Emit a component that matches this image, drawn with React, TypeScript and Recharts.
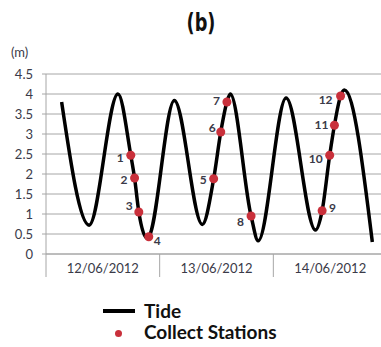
import { ComposedChart, Line, Scatter, XAxis, YAxis, CartesianGrid, Legend } from 'recharts';

// tide curve (hours since 12/06 00:00, metres)
const tideHours = [3.3, 9.1, 15.2, 17.9, 18.7, 19.6, 21.3, 21.7, 27.1, 33.0, 35.4, 36.9, 38.2, 38.9, 43.3, 44.8, 50.7, 56.9, 58.3, 59.9, 60.9, 62.2, 63.0, 68.9];
const tideLevels = [3.8, 0.72, 4.0, 2.47, 1.9, 1.05, 0.4, 0.43, 3.84, 0.74, 1.88, 3.05, 3.8, 4.0, 0.95, 0.33, 3.9, 0.6, 1.08, 2.47, 3.22, 3.95, 4.1, 0.3];

// collect stations 1..12
const stationHours = [17.9, 18.7, 19.6, 21.7, 35.4, 36.9, 38.2, 43.3, 58.3, 59.9, 60.9, 62.2];
const stationLevels = [2.47, 1.9, 1.05, 0.43, 1.88, 3.05, 3.8, 0.95, 1.08, 2.47, 3.22, 3.95];

const dayLabels = ['12/06/2012', '13/06/2012', '14/06/2012'];
const yTicks = [0, 0.5, 1, 1.5, 2, 2.5, 3, 3.5, 4, 4.5];
const xTicks = [0, 12, 24, 36, 48, 60, 72];

// where each station number sits relative to its dot
const LABEL_DX = [-7, -7, -6, 5, -7, -5, -7, -7, 7, -7, -6, -8];
const LABEL_DY = [7, 6, -2, 8, 5, 0, 3, 10, 1, 8, 4, 8];

const tide = tideHours.map((h, i) => ({ h, v: tideLevels[i] }));
const stations = stationHours.map((h, i) => ({ h, v: stationLevels[i], n: i + 1 }));

const FONT = 'Lato, sans-serif';
const GRID = '#a6a6a6';
const RED = '#c9303b';
const TEXT = '#3a3a48';

function DayTick(props: any) {
  const { x, y, payload } = props;
  const v = payload.value;
  if (v % 24 === 0) {
    return <line x1={x} x2={x} y1={y} y2={y + 23} stroke={GRID} strokeWidth={1} />;
  }
  return (
    <text x={x} y={y + 19} textAnchor="middle" fontSize={13} fontFamily={FONT} fill={TEXT}>
      {dayLabels[Math.floor(v / 24)]}
    </text>
  );
}

function StationDot(props: any) {
  const { cx, cy, payload } = props;
  const i = payload.n - 1;
  const dx = LABEL_DX[i];
  return (
    <g>
      <circle cx={cx} cy={cy} r={4.5} fill={RED} />
      <text
        x={cx + dx}
        y={cy + LABEL_DY[i]}
        textAnchor={dx > 0 ? 'start' : 'end'}
        fontSize={12}
        fontWeight="bold"
        fontFamily={FONT}
        fill={TEXT}
      >
        {payload.n}
      </text>
    </g>
  );
}

function LegendBox() {
  const row = { display: 'flex', alignItems: 'center', height: 21 } as const;
  const label = { fontFamily: FONT, fontWeight: 700, fontSize: 19, color: '#111', marginLeft: 9, lineHeight: '21px' } as const;
  return (
    <div>
      <div style={row}>
        <div style={{ width: 32, height: 4, background: '#000' }} />
        <span style={label}>Tide</span>
      </div>
      <div style={row}>
        <div style={{ width: 32, display: 'flex', justifyContent: 'center', marginLeft: -1, paddingTop: 4 }}>
          <div style={{ width: 7, height: 7, borderRadius: 4, background: RED }} />
        </div>
        <span style={{ ...label, marginLeft: 10 }}>Collect Stations</span>
      </div>
    </div>
  );
}

export default function App() {
  return (
    <div style={{ position: 'absolute', left: 0, top: 0, width: 381, height: 347, overflow: 'hidden', background: '#fff' }}>
      <div
        style={{
          position: 'absolute',
          left: 151,
          width: 100,
          top: 9,
          textAlign: 'center',
          fontFamily: "'DejaVu Sans Condensed', 'DejaVu Sans', sans-serif",
          fontWeight: 700,
          fontSize: 24,
          color: '#111',
          transform: 'scaleX(0.82)',
        }}
      >
        (b)
      </div>
      <div style={{ position: 'absolute', left: 11, top: 44, fontFamily: FONT, fontSize: 13, color: TEXT }}>(m)</div>
      <ComposedChart width={390} height={347} margin={{ top: 74, right: 3, left: 0, bottom: 63 }}>
        <CartesianGrid horizontal vertical={false} stroke={GRID} />
        <XAxis
          type="number"
          dataKey="h"
          domain={[0, 72]}
          ticks={xTicks}
          interval={0}
          tick={<DayTick />}
          tickLine={false}
          tickSize={0}
          tickMargin={0}
          axisLine={{ stroke: GRID }}
          height={30}
        />
        <YAxis
          type="number"
          domain={[0, 4.5]}
          ticks={yTicks}
          interval={0}
          width={46}
          tickSize={4}
          tickMargin={9}
          tickLine={{ stroke: GRID }}
          axisLine={{ stroke: GRID }}
          tick={{ fontSize: 13, fontFamily: FONT, fill: TEXT }}
        />
        <Line
          data={tide}
          dataKey="v"
          type="monotone"
          stroke="#000"
          strokeWidth={3.5}
          dot={false}
          isAnimationActive={false}
          name="Tide"
        />
        <Scatter data={stations} dataKey="v" shape={<StationDot />} isAnimationActive={false} name="Collect Stations" />
        <Legend
          layout="horizontal"
          verticalAlign="middle"
          align="center"
          content={<LegendBox />}
          wrapperStyle={{ left: 103, top: 300, width: 240, height: 44 }}
        />
      </ComposedChart>
    </div>
  );
}
